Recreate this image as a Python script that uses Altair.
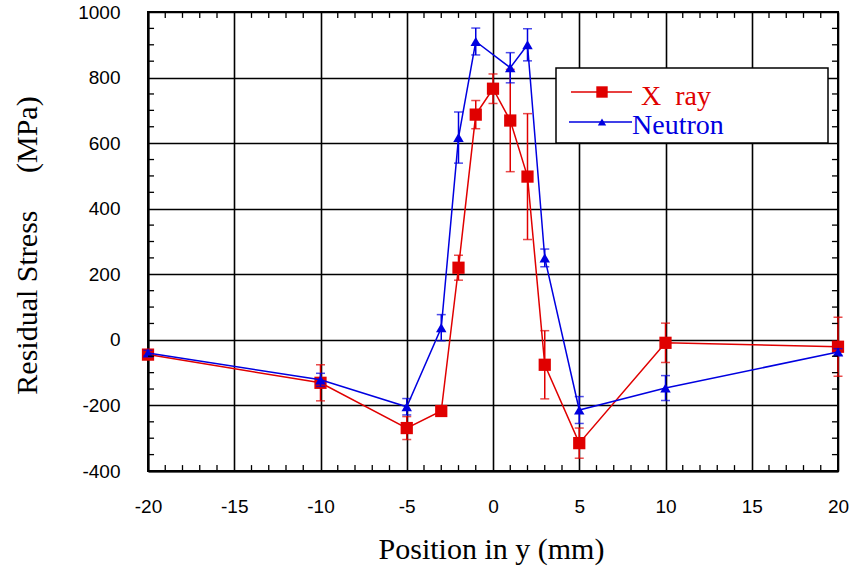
import altair as alt
import numpy as np
import pandas as pd

# X-ray data
x_xray = [-20, -10, -5, -3, -2, -1, 0, 1, 2, 3, 5, 10, 20]
s_xray = [-45, -131, -269, -217, 220, 687, 766, 669, 498, -76, -315, -9, -21]
e_xray = [10, 55, 35, 15, 38, 43, 45, 156, 192, 104, 46, 60, 90]

# Neutron data
x_neut = [-20, -10, -5, -3, -2, -1, 1, 2, 3, 5, 10, 20]
s_neut = [-40, -122, -204, 37, 617, 910, 830, 900, 250, -214, -147, -37]
e_neut = [8, 20, 25, 40, 78, 41, 46, 49, 27, 41, 38, 10]

x_ticks = [-20, -15, -10, -5, 0, 5, 10, 15, 20]
y_ticks = [-400, -200, 0, 200, 400, 600, 800, 1000]

RED = "#e00000"
BLUE = "#0000e0"

W, H = 690, 459
NB = "\u00a0"

dx = pd.DataFrame({"x": x_xray, "s": s_xray, "e": e_xray})
dx["lo"] = dx["s"] - dx["e"]
dx["hi"] = dx["s"] + dx["e"]
dn = pd.DataFrame({"x": x_neut, "s": s_neut, "e": e_neut})
dn["lo"] = dn["s"] - dn["e"]
dn["hi"] = dn["s"] + dn["e"]

xs = alt.Scale(domain=[-20, 20], nice=False, zero=False)
ys = alt.Scale(domain=[-400, 1000], nice=False, zero=False)

X = alt.X("x:Q", scale=xs, axis=alt.Axis(
    values=x_ticks, title="Position in y (mm)", grid=True, ticks=False, tickSize=0,
    labelExpr="'' + datum.value",
    labelPadding=26, labelFont="Liberation Sans", labelFontSize=19, labelColor="black",
    titleFont="Liberation Serif", titleFontSize=30, titleFontWeight="normal", titleColor="black",
    titleBaseline="alphabetic", titleY=87, titleX=W / 2 - 2, labelFlush=False))
Y = alt.Y("s:Q", scale=ys, axis=alt.Axis(
    values=y_ticks, title="Residual Stress" + NB * 5 + "(MPa)", grid=True, ticks=False, tickSize=0,
    labelExpr="'' + datum.value",
    labelPadding=28, labelFont="Liberation Sans", labelFontSize=19, labelColor="black",
    titleFont="Liberation Serif", titleFontSize=30, titleFontWeight="normal", titleColor="black",
    titleAngle=270, titleBaseline="middle", titleX=-121, titleY=233, titleAlign="center",
    labelFlush=False))

XN = alt.X("x:Q", scale=xs)


def series(df, color, shape, size):
    base = alt.Chart(df)
    line = base.mark_line(color=color, strokeWidth=1.5).encode(x=X, y=Y)
    bars = base.mark_rule(color=color, strokeWidth=1.5).encode(
        x=XN, y=alt.Y("lo:Q", scale=ys), y2="hi:Q")
    cap_lo = base.mark_tick(color=color, orient="horizontal", size=9, thickness=1.5).encode(
        x=XN, y=alt.Y("lo:Q", scale=ys))
    cap_hi = base.mark_tick(color=color, orient="horizontal", size=9, thickness=1.5).encode(
        x=XN, y=alt.Y("hi:Q", scale=ys))
    pts = base.mark_point(shape=shape, filled=True, color=color, opacity=1, size=size).encode(
        x=XN, y=alt.Y("s:Q", scale=ys))
    return [line, bars, cap_lo, cap_hi, pts]


# minor ticks (inward) as short rules; ends are axis decoration, not data
minor_x = [v for v in range(-19, 20) if v % 5 != 0]
minor_y = [v for v in range(-350, 1000, 50) if v % 200 != 0]
dy_tick = 18      # MPa (about 6 px)
dx_tick = 0.35    # mm (about 6 px)

mxb = pd.DataFrame({"x": minor_x, "a": -400, "b": -400 + dy_tick})
mxt = pd.DataFrame({"x": minor_x, "a": 1000, "b": 1000 - dy_tick})
myl = pd.DataFrame({"s": minor_y, "a": -20, "b": -20 + dx_tick})
myr = pd.DataFrame({"s": minor_y, "a": 20, "b": 20 - dx_tick})


def vticks(df):
    return alt.Chart(df).mark_rule(color="black", strokeWidth=1.3).encode(
        x=XN, y=alt.Y("a:Q", scale=ys), y2="b:Q")


def hticks(df):
    return alt.Chart(df).mark_rule(color="black", strokeWidth=1.3).encode(
        y=alt.Y("s:Q", scale=ys), x=alt.X("a:Q", scale=xs), x2="b:Q")


tick_b = vticks(mxb)
tick_t = vticks(mxt)
tick_l = hticks(myl)
tick_r = hticks(myr)

# legend
one = pd.DataFrame({"a": [0]})
lg = alt.Chart(one)
leg_box = lg.mark_rect(fill="white", stroke="black", strokeWidth=1.5).encode(
    x=alt.value(408), x2=alt.value(680), y=alt.value(56), y2=alt.value(131))
leg_r_line = lg.mark_rule(color=RED, strokeWidth=1.5).encode(
    x=alt.value(423), x2=alt.value(484), y=alt.value(80))
leg_r_pt = lg.mark_point(shape="square", filled=True, color=RED, opacity=1, size=130).encode(
    x=alt.value(454), y=alt.value(80))
leg_r_txt = lg.mark_text(color=RED, font="Liberation Serif", fontSize=28, align="left",
                         baseline="alphabetic").encode(
    x=alt.value(493), y=alt.value(93), text=alt.value("X" + NB * 2 + "ray"))
leg_b_line = lg.mark_rule(color=BLUE, strokeWidth=1.5).encode(
    x=alt.value(421), x2=alt.value(484), y=alt.value(110))
leg_b_pt = lg.mark_point(shape="triangle-up", filled=True, color=BLUE, opacity=1, size=70).encode(
    x=alt.value(454), y=alt.value(110))
leg_b_txt = lg.mark_text(color=BLUE, font="Liberation Serif", fontSize=28, align="left",
                         baseline="alphabetic").encode(
    x=alt.value(484), y=alt.value(122), text=alt.value("Neutron"))

layers = (series(dx, RED, "square", 150) + series(dn, BLUE, "triangle-up", 110)
          + [tick_b, tick_t, tick_l, tick_r,
             leg_box, leg_r_line, leg_r_pt, leg_r_txt, leg_b_line, leg_b_pt, leg_b_txt])

chart = alt.layer(*layers).properties(
    width=W, height=H,
    autosize=alt.AutoSizeParams(type="none"),
    padding={"left": 148, "top": 12, "right": 15, "bottom": 104},
    background="white",
).configure_axis(
    gridColor="black", gridWidth=1.6, gridOpacity=1,
    domainColor="black", domainWidth=2,
).configure_view(stroke="black", strokeWidth=2)

chart.save("out.html", embed_options={"renderer": "svg", "actions": False})
